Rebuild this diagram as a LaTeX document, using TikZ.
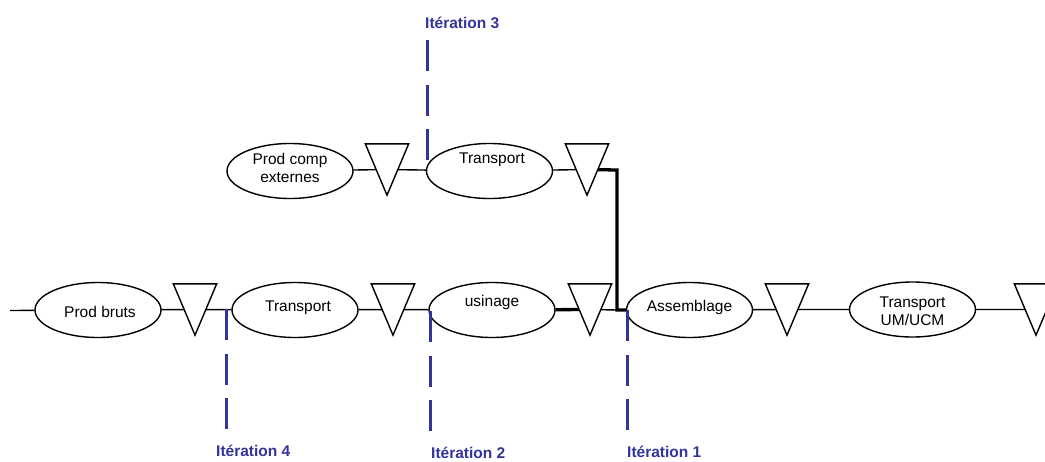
\documentclass[tikz,border=0pt]{standalone}
\usepackage{fontspec}
\setmainfont{Liberation Sans}
\usetikzlibrary{shapes.geometric,backgrounds}
\definecolor{iterblue}{HTML}{333399}
\tikzset{
  proc/.style={ellipse,draw=black,line width=1.4pt,fill=white,inner sep=0pt,minimum width=126pt,minimum height=55pt},
  txt/.style={anchor=base,inner sep=0pt,font=\fontsize{15.5}{18}\selectfont},
  itlabel/.style={anchor=base west,inner sep=0pt,text=iterblue,font=\fontsize{15.5}{18}\selectfont\bfseries},
  tribox/.style={rectangle,draw=none,inner sep=0pt,minimum width=43pt,minimum height=51pt},
  trishape/.style={draw=black,line width=1.4pt,fill=white,line join=miter},
  conn/.style={draw=black,line width=1.4pt},
  thickconn/.style={draw=black,line width=3.3pt},
  iterline/.style={draw=iterblue,line width=3pt,dash pattern=on 31pt off 13.5pt}
}
\newcommand{\trifill}[1]{\path[trishape] (#1.north west) -- (#1.north east) -- (#1.south) -- cycle;}
\begin{document}
\begin{tikzpicture}[x=1pt,y=-1pt]
\useasboundingbox (0,0) rectangle (1045,461);
% bottom row
\node[proc] (pb) at (98,310) {};
\node[txt] (pbt) at (100,317) {Prod bruts};
\node[tribox] (t1) at (195,309.5) {}; \trifill{t1}
\node[proc] (tr1) at (295,310) {};
\node[txt] (tr1t) at (298,311) {Transport};
\node[tribox] (t2) at (393,309.5) {}; \trifill{t2}
\node[proc] (us) at (492,310) {};
\node[txt] (ust) at (492,306) {usinage};
\node[tribox] (t3) at (590,309.5) {}; \trifill{t3}
\node[proc] (asm) at (689.5,310) {};
\node[txt] (asmt) at (689.5,311) {Assemblage};
\node[tribox] (t4) at (787,309.5) {}; \trifill{t4}
\node[proc] (um) at (912.5,309.5) {};
\node[txt] (umt1) at (912.5,307) {Transport};
\node[txt] (umt2) at (912.5,325) {UM/UCM};
\node[tribox] (t5) at (1036,309.5) {}; \trifill{t5}
% top row
\node[proc] (pce) at (290,171) {};
\node[txt] (pcet1) at (290,164) {Prod comp};
\node[txt] (pcet2) at (290,182) {externes};
\node[tribox] (u1) at (387,169.5) {}; \trifill{u1}
\node[proc] (tr2) at (489.5,171) {};
\node[txt] (tr2t) at (492,163) {Transport};
\node[tribox] (u2) at (587,169.5) {}; \trifill{u2}
% junction points
\coordinate (start) at (10,310.5);
\coordinate (endr) at (1045,310);
\coordinate (k) at (617,170);
\coordinate (j) at (617,310);
% connectors
\begin{scope}[on background layer]
\path[conn] (start) -- (pb) -- (t1.center) -- (tr1) -- (t2.center) -- (us);
\path[thickconn] (us) -- (t3.center);
\path[conn] (t3.center) -- (j);
\path[conn] (asm) -- (t4.center) -- (um) -- (t5.center) -- (endr);
\path[conn] (pce) -- (u1.center) -- (tr2) -- (u2.center);
\path[thickconn,line join=miter] (u2.center) -- (k) -- (j) -- (asm);
\end{scope}
% iterations
\node[itlabel] (it3) at (425,28) {Itération 3};
\node[itlabel] (it4) at (216,456) {Itération 4};
\node[itlabel] (it2) at (431,458) {Itération 2};
\node[itlabel] (it1) at (627,457) {Itération 1};
\coordinate (i3a) at (427,40);  \coordinate (i3b) at (427,160);
\coordinate (i4a) at (226,309); \coordinate (i4b) at (226,429);
\coordinate (i2a) at (430,311); \coordinate (i2b) at (430,431);
\coordinate (i1a) at (627,310); \coordinate (i1b) at (627,430);
\path[iterline] (i3a) -- (i3b);
\path[iterline] (i4a) -- (i4b);
\path[iterline] (i2a) -- (i2b);
\path[iterline] (i1a) -- (i1b);
\end{tikzpicture}
\end{document}
